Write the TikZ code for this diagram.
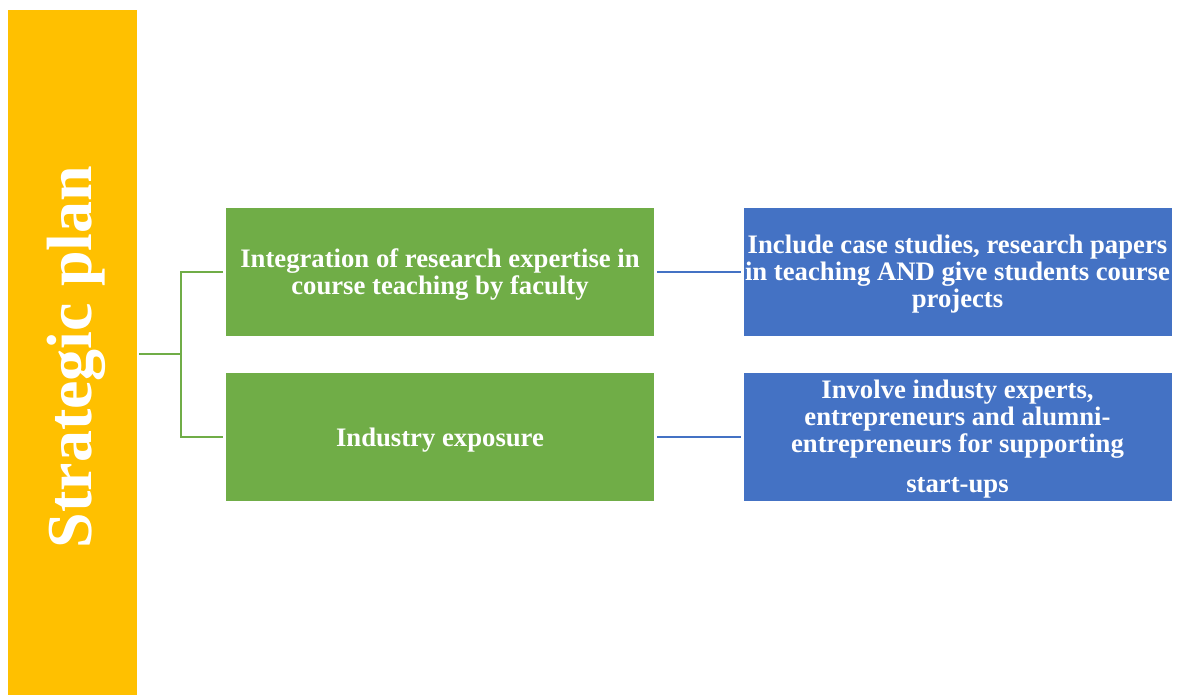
\documentclass[tikz,border=0pt]{standalone}
\usepackage{fontspec}
\setmainfont{Liberation Serif}
\definecolor{ybar}{HTML}{FFC000}
\definecolor{gbox}{HTML}{70AD47}
\definecolor{bbox}{HTML}{4472C4}
\begin{document}
\begin{tikzpicture}[x=1pt,y=-1pt,
  box/.style={inner sep=0pt, minimum width=428pt, minimum height=128pt},
  greenbox/.style={box, fill=gbox},
  bluebox/.style={box, fill=bbox},
  boxtext/.style={inner sep=0pt, text=white, align=center, font=\fontsize{26.7}{27}\selectfont\bfseries},
  gline/.style={draw=gbox, line width=2pt},
  bline/.style={draw=bbox, line width=2pt}]
\useasboundingbox (0,0) rectangle (1177,695);
\node[fill=ybar, inner sep=0pt, minimum width=129pt, minimum height=685pt] (bar) at (72.5,352.5) {};
\node[rotate=90, text=white, font=\fontsize{64}{70}\selectfont\bfseries] (title) at (76,357) {Strategic plan};
\node[greenbox] (g1) at (440,272) {};
\node[greenbox] (g2) at (440,436.5) {};
\node[bluebox] (b1) at (957.5,272) {};
\node[bluebox] (b2) at (957.5,436.5) {};
\node[boxtext] (g1t) at ([yshift=-3pt]g1.center) {Integration of research expertise in\\course teaching by faculty};
\node[boxtext] (g2t) at ([yshift=-4pt]g2.center) {Industry exposure};
\node[boxtext] (b1t) at ([yshift=-2pt]b1.center) {Include case studies, research papers\\in teaching AND give students course\\projects};
\node[boxtext] (b2t) at ([yshift=-3pt]b2.center) {Involve industy experts,\\entrepreneurs and alumni-\\entrepreneurs for supporting\\[13pt]start-ups};
\coordinate (j) at (181,354);
\draw[gline] ([xshift=2pt]bar.east |- j) -- (j);
\draw[gline, shorten >=3pt] (j |- g1.west) -- (g1.west);
\draw[gline, shorten >=3pt] (j |- g2.west) -- (g2.west);
\draw[gline, line cap=rect] (j |- g1.west) -- (j |- g2.west);
\draw[bline, shorten <=3pt, shorten >=2pt] (g1.east) -- (b1.west);
\draw[bline, shorten <=3pt, shorten >=2pt] (g2.east) -- (b2.west);
\end{tikzpicture}
\end{document}
